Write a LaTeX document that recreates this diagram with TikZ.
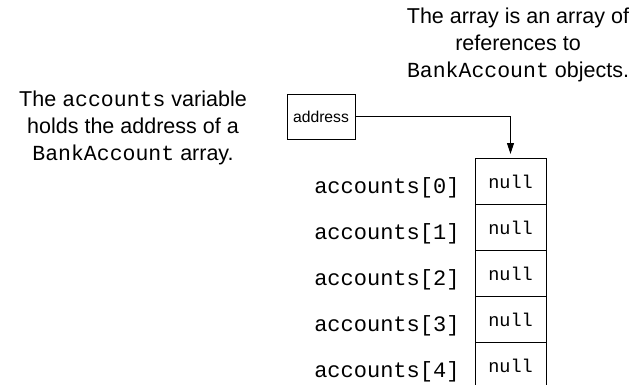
\documentclass[tikz,border=0pt]{standalone}
\usepackage{fontspec}
\setmainfont{Liberation Sans}
\setmonofont{Liberation Mono}
\usetikzlibrary{positioning,arrows.meta}

\begin{document}
\begin{tikzpicture}[x=1pt, y=-1pt, line width=1pt,
  note/.style={align=center, font=\fontsize{21.5}{27}\selectfont},
  addrbox/.style={draw, rectangle, minimum width=68pt, minimum height=44pt, inner sep=0pt, font=\fontsize{15.7}{18}\selectfont},
  cell/.style={draw, rectangle, outer sep=0pt, minimum width=71pt, minimum height=46pt, inner sep=0pt, text height=15pt, text depth=0pt, font=\fontsize{18.5}{20}\ttfamily},
  idx/.style={anchor=base east, inner sep=0pt, font=\fontsize{22}{24}\ttfamily}
]
\useasboundingbox (0,0) rectangle (642,385);

% Notes
\node[note] (leftnote) at (133,128) {The \texttt{accounts} variable\\holds the address of a\\\texttt{BankAccount} array.};
\node[note] (rightnote) at (518,45) {The array is an array of\\references to\\\texttt{BankAccount} objects.};

% Reference variable
\node[addrbox] (addr) at (321,117) {address};

% Array cells
\node[cell] (cell0) at (510.5,181) {null};
\foreach \i [count=\j from 0] in {1,2,3}
  \node[cell, below=0pt of cell\j] (cell\i) {null};
\node[cell, draw=none, below=0pt of cell3] (cell4) {null};
\draw (cell4.south west) -- (cell4.north west) -- (cell4.north east) -- (cell4.south east);

% Index labels
\foreach \i in {0,...,4}
  \node[idx] (idx\i) at ([xshift=-15pt, yshift=-12pt]cell\i.west) {accounts[\i]};

% Arrow
\draw[-{Triangle[length=11pt, width=7pt]}, shorten >=4pt] (addr.east) -| (cell0.north);

\end{tikzpicture}
\end{document}
